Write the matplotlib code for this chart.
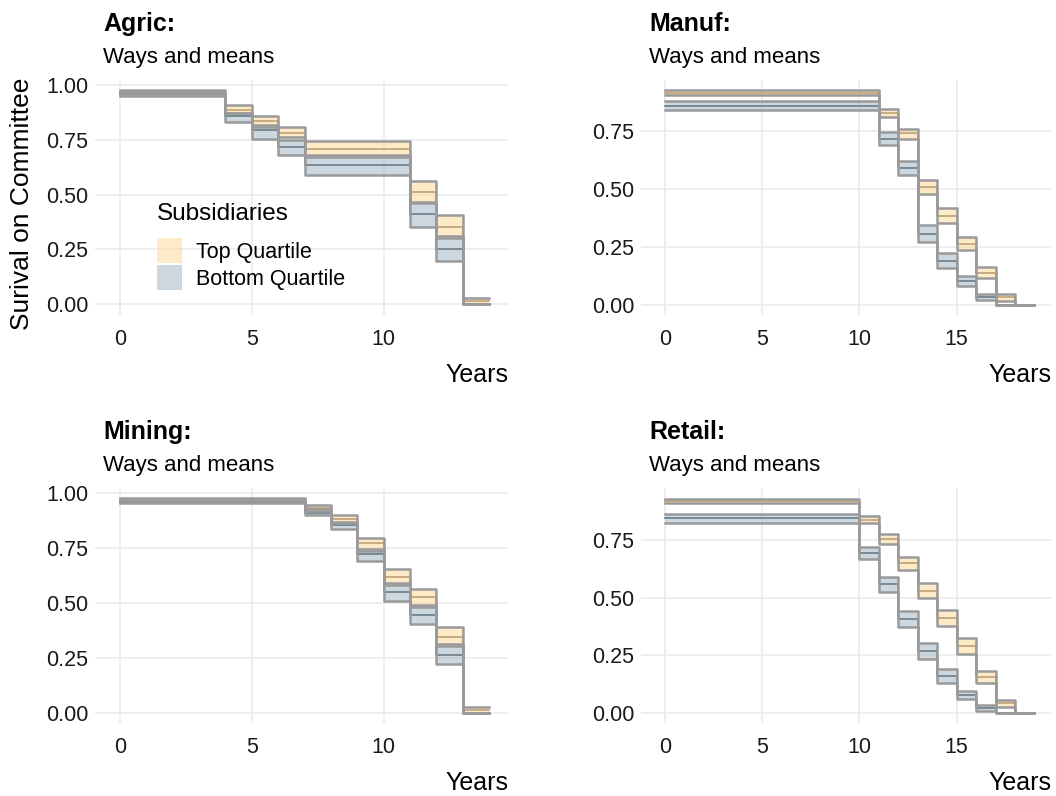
import matplotlib
matplotlib.use("Agg")
import matplotlib.pyplot as plt
from matplotlib.patches import Rectangle
from matplotlib.ticker import FormatStrFormatter

plt.rcParams['font.family'] = ['Liberation Sans', 'DejaVu Sans']

# ---- survival estimates with confidence bands (step functions) ----
agric_years = [0, 4, 5, 6, 7, 11, 12, 13]
agric_end = 14
agric_top_est = [0.968, 0.887, 0.836, 0.783, 0.708, 0.510, 0.351, 0.015]
agric_top_lo = [0.958, 0.873, 0.817, 0.761, 0.680, 0.468, 0.312, 0.000]
agric_top_hi = [0.978, 0.909, 0.860, 0.810, 0.746, 0.562, 0.407, 0.030]
agric_bot_est = [0.958, 0.861, 0.797, 0.718, 0.635, 0.412, 0.251, 0.000]
agric_bot_lo = [0.948, 0.833, 0.755, 0.679, 0.588, 0.354, 0.199, 0.000]
agric_bot_hi = [0.968, 0.871, 0.810, 0.749, 0.673, 0.464, 0.304, 0.000]

manuf_years = [0, 11, 12, 13, 14, 15, 16, 17, 18]
manuf_end = 19
manuf_top_est = [0.913, 0.825, 0.738, 0.508, 0.384, 0.262, 0.138, 0.032, 0.000]
manuf_top_lo = [0.902, 0.810, 0.715, 0.476, 0.352, 0.234, 0.114, 0.017, 0.000]
manuf_top_hi = [0.927, 0.842, 0.758, 0.539, 0.417, 0.294, 0.161, 0.045, 0.000]
manuf_bot_est = [0.858, 0.715, 0.587, 0.306, 0.190, 0.102, 0.035, 0.000, 0.000]
manuf_bot_lo = [0.840, 0.689, 0.557, 0.271, 0.160, 0.081, 0.020, 0.000, 0.000]
manuf_bot_hi = [0.876, 0.745, 0.621, 0.345, 0.225, 0.124, 0.048, 0.000, 0.000]

mining_years = [0, 7, 8, 9, 10, 11, 12, 13]
mining_end = 14
mining_top_est = [0.967, 0.935, 0.881, 0.772, 0.617, 0.526, 0.347, 0.012]
mining_top_lo = [0.958, 0.927, 0.869, 0.746, 0.590, 0.491, 0.312, 0.000]
mining_top_hi = [0.977, 0.947, 0.901, 0.798, 0.657, 0.565, 0.391, 0.025]
mining_bot_est = [0.962, 0.912, 0.854, 0.723, 0.552, 0.447, 0.264, 0.000]
mining_bot_lo = [0.954, 0.903, 0.836, 0.690, 0.509, 0.403, 0.223, 0.000]
mining_bot_hi = [0.972, 0.921, 0.863, 0.739, 0.582, 0.483, 0.304, 0.000]

retail_years = [0, 10, 11, 12, 13, 14, 15, 16, 17, 18]
retail_end = 19
retail_top_est = [0.920, 0.839, 0.754, 0.648, 0.530, 0.411, 0.288, 0.156, 0.041, 0.000]
retail_top_lo = [0.910, 0.822, 0.732, 0.619, 0.498, 0.376, 0.255, 0.127, 0.026, 0.000]
retail_top_hi = [0.930, 0.854, 0.776, 0.677, 0.563, 0.444, 0.323, 0.182, 0.055, 0.000]
retail_bot_est = [0.844, 0.695, 0.559, 0.408, 0.269, 0.159, 0.078, 0.020, 0.000, 0.000]
retail_bot_lo = [0.825, 0.666, 0.525, 0.373, 0.234, 0.130, 0.058, 0.009, 0.000, 0.000]
retail_bot_hi = [0.861, 0.718, 0.588, 0.443, 0.302, 0.188, 0.096, 0.032, 0.000, 0.000]

group_labels = ["Top Quartile", "Bottom Quartile"]
panel_titles = ["Agric:", "Manuf:", "Mining:", "Retail:"]
subtitle = "Ways and means"

# ---- styling ----
TOP_FILL = "#FDD791"
BOT_FILL = "#9DB1C1"
TOP_LINE = "#C4A67A"
BOT_LINE = "#70848F"
EDGE = "#9A9A9A"
GRID = "#EBEBEB"

W, H = 1056, 796
fig = plt.figure(figsize=(W / 100, H / 100), dpi=100)


def add_axes_px(left, top, right, bottom):
    return fig.add_axes([left / W, 1 - bottom / H, (right - left) / W, (bottom - top) / H])


def extend(vals):
    return list(vals) + [vals[-1]]


def draw_group(ax, years, end, est, lo, hi, fill, line):
    xs = list(years) + [end]
    ax.fill_between(xs, extend(lo), extend(hi), step="post", color=fill,
                    alpha=0.5, lw=0, zorder=2)
    ax.step(xs, extend(est), where="post", color=line, lw=1.3, zorder=3)
    ax.step(xs, extend(hi), where="post", color=EDGE, lw=1.8, zorder=4)
    ax.step(xs, extend(lo), where="post", color=EDGE, lw=1.8, zorder=4)


panels = [
    dict(box=(95, 80, 508, 315), xlim=(-0.95, 14.72), ylim=(-0.049, 1.023),
         xticks=[0, 5, 10], years=agric_years, end=agric_end,
         top=(agric_top_est, agric_top_lo, agric_top_hi),
         bot=(agric_bot_est, agric_bot_lo, agric_bot_hi)),
    dict(box=(641, 80, 1051, 315), xlim=(-1.23, 19.85), ylim=(-0.044, 0.968),
         xticks=[0, 5, 10, 15], years=manuf_years, end=manuf_end,
         top=(manuf_top_est, manuf_top_lo, manuf_top_hi),
         bot=(manuf_bot_est, manuf_bot_lo, manuf_bot_hi)),
    dict(box=(95, 488, 508, 723), xlim=(-0.95, 14.72), ylim=(-0.047, 1.024),
         xticks=[0, 5, 10], years=mining_years, end=mining_end,
         top=(mining_top_est, mining_top_lo, mining_top_hi),
         bot=(mining_bot_est, mining_bot_lo, mining_bot_hi)),
    dict(box=(641, 488, 1051, 723), xlim=(-1.23, 19.85), ylim=(-0.045, 0.976),
         xticks=[0, 5, 10, 15], years=retail_years, end=retail_end,
         top=(retail_top_est, retail_top_lo, retail_top_hi),
         bot=(retail_bot_est, retail_bot_lo, retail_bot_hi)),
]

for title, p in zip(panel_titles, panels):
    left, top, right, bottom = p["box"]
    ax = add_axes_px(left, top, right, bottom)
    draw_group(ax, p["years"], p["end"], *p["top"], TOP_FILL, TOP_LINE)
    draw_group(ax, p["years"], p["end"], *p["bot"], BOT_FILL, BOT_LINE)

    ymax = p["ylim"][1]
    ax.set_xticks(p["xticks"])
    ax.set_yticks([v for v in [0, 0.25, 0.5, 0.75, 1.0] if v <= ymax])
    ax.set_xlim(*p["xlim"])
    ax.set_ylim(*p["ylim"])
    ax.yaxis.set_major_formatter(FormatStrFormatter("%.2f"))
    ax.grid(True, color=GRID, lw=1.2)
    ax.set_axisbelow(True)
    for s in ax.spines.values():
        s.set_visible(False)
    ax.tick_params(length=0, labelsize=15.5, colors="#1a1a1a")
    ax.tick_params(axis="x", pad=10)
    ax.tick_params(axis="y", pad=5)

    fig.text((left + 8) / W, 1 - (top - 49) / H, title, fontsize=18,
             fontweight="bold", ha="left", va="baseline")
    fig.text((left + 8) / W, 1 - (top - 17) / H, subtitle, fontsize=16,
             ha="left", va="baseline")
    fig.text(right / W, 1 - (bottom + 67) / H, "Years", fontsize=18,
             ha="right", va="baseline")

fig.text(22 / W, 1 - 204 / H, "Surival on Committee", fontsize=19,
         rotation=90, ha="center", va="center")

# legend inside the first panel
fig.text(157 / W, 1 - 220 / H, "Subsidiaries", fontsize=17.5, ha="left", va="baseline")
for i, (lab, col) in enumerate(zip(group_labels, [TOP_FILL, BOT_FILL])):
    y_top = 238 + 27 * i
    fig.patches.append(Rectangle((157 / W, 1 - (y_top + 25) / H), 25 / W, 25 / H,
                                 transform=fig.transFigure, facecolor=col,
                                 alpha=0.5, edgecolor="none"))
    fig.text(196 / W, 1 - (y_top + 20) / H, lab, fontsize=15.5, ha="left", va="baseline")

fig.savefig("out.png", dpi=100, facecolor="white")
